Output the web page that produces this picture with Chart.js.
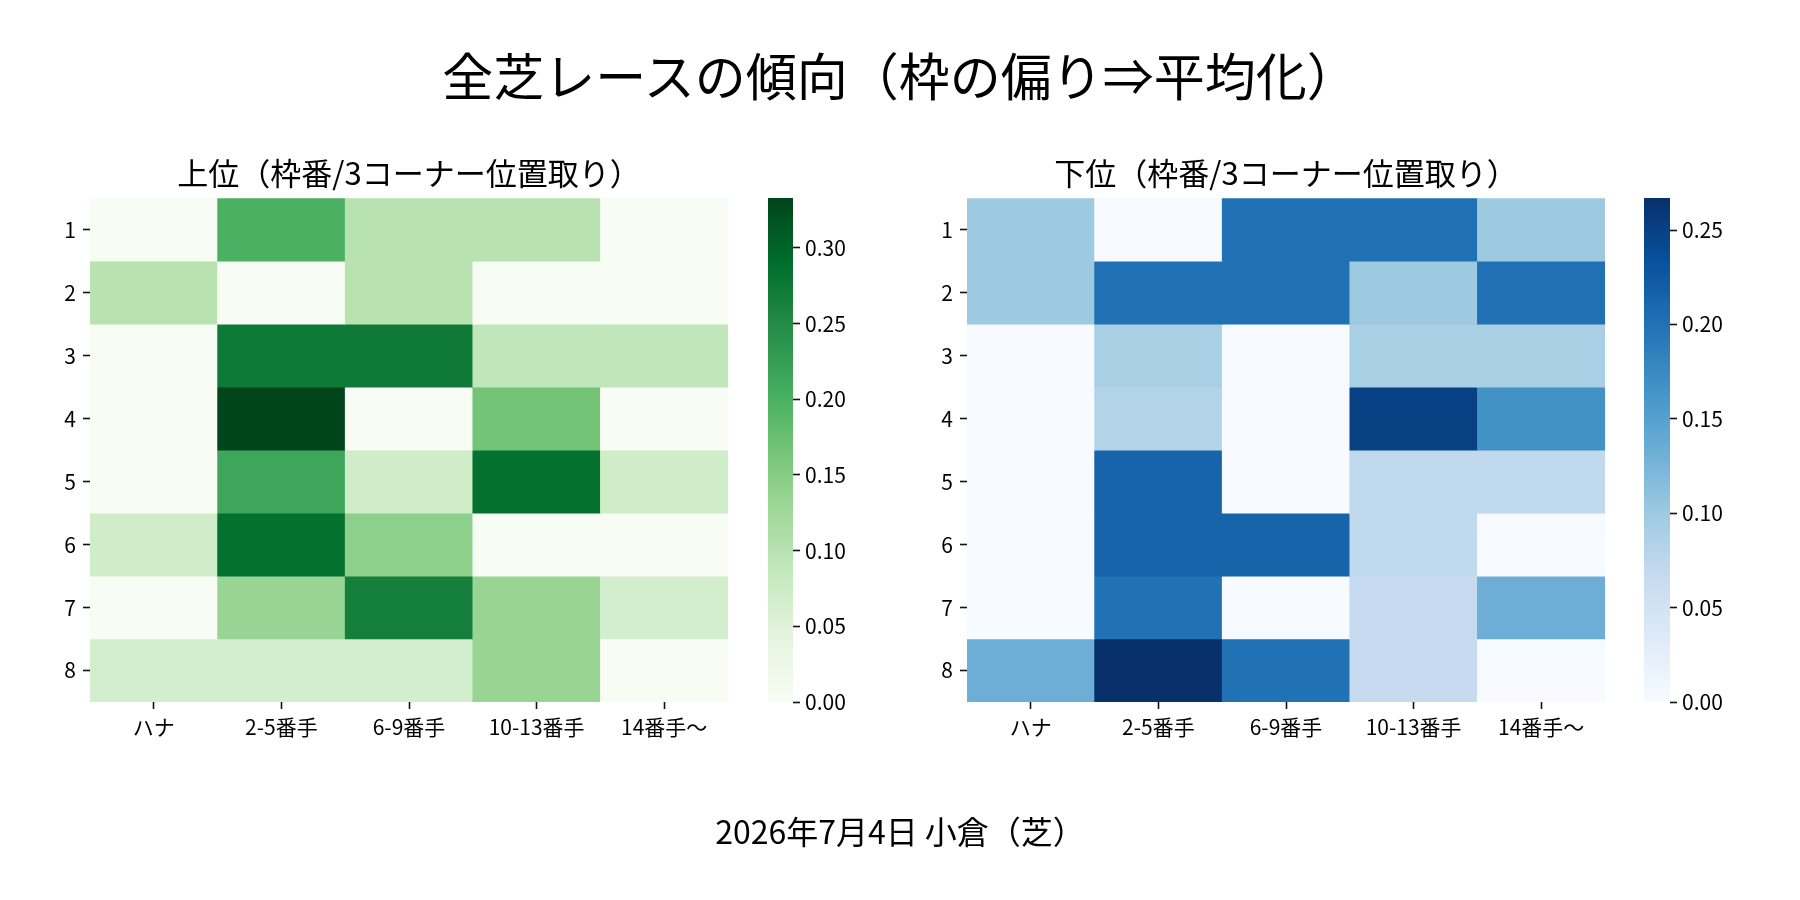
<!DOCTYPE html>
<html lang="ja">
<head>
<meta charset="utf-8">
<title>全芝レースの傾向</title>
<script src="https://cdn.jsdelivr.net/npm/chart.js@4.4.1/dist/chart.umd.min.js"></script>
<style>
  html, body { margin: 0; padding: 0; background: #fff; }
  #wrap { position: relative; width: 1800px; height: 900px; overflow: hidden; }
  #wrap canvas { position: absolute; left: 0; top: 0; }
  .txt { position: absolute; left: 0; width: 1800px; text-align: center; color: #000;
         font-family: 'Noto Sans CJK JP', sans-serif; white-space: nowrap; }
  #suptitle { top: 44px; font-size: 51px; line-height: 60px; }
  #footer { top: 810px; font-size: 32px; line-height: 40px; }
</style>
</head>
<body>
<div id="wrap">
  <div id="suptitle" class="txt">全芝レースの傾向（枠の偏り⇒平均化）</div>
  <canvas id="hmUpper" width="1800" height="900"></canvas>
  <canvas id="cbUpper" width="1800" height="900"></canvas>
  <canvas id="hmLower" width="1800" height="900"></canvas>
  <canvas id="cbLower" width="1800" height="900"></canvas>
  <div id="footer" class="txt">2026年7月4日 小倉（芝）</div>
</div>
<script>
// 列 = 3コーナー位置取り, 行 = 枠番
const colLabels = ['ハナ', '2-5番手', '6-9番手', '10-13番手', '14番手～'];
const rowLabels = ['1', '2', '3', '4', '5', '6', '7', '8'];

// 上位
const upperValues = [
  [0.000, 0.200, 0.100, 0.100, 0.000],
  [0.100, 0.000, 0.100, 0.000, 0.000],
  [0.000, 0.273, 0.273, 0.091, 0.091],
  [0.000, 0.333, 0.000, 0.167, 0.000],
  [0.000, 0.214, 0.071, 0.286, 0.071],
  [0.071, 0.286, 0.143, 0.000, 0.000],
  [0.000, 0.133, 0.267, 0.133, 0.067],
  [0.067, 0.067, 0.067, 0.133, 0.000]
];

// 下位
const lowerValues = [
  [0.100, 0.000, 0.200, 0.200, 0.100],
  [0.100, 0.200, 0.200, 0.100, 0.200],
  [0.000, 0.091, 0.000, 0.091, 0.091],
  [0.000, 0.083, 0.000, 0.250, 0.167],
  [0.000, 0.214, 0.000, 0.071, 0.071],
  [0.000, 0.214, 0.214, 0.071, 0.000],
  [0.000, 0.200, 0.000, 0.067, 0.133],
  [0.133, 0.267, 0.200, 0.067, 0.000]
];

const upperTicks = [0, 0.05, 0.10, 0.15, 0.20, 0.25, 0.30];
const lowerTicks = [0, 0.05, 0.10, 0.15, 0.20, 0.25];

// matplotlib Greens / Blues
const greens = ['#f7fcf5', '#e5f5e0', '#c7e9c0', '#a1d99b', '#74c476', '#41ab5d', '#238b45', '#006d2c', '#00441b'];
const blues  = ['#f7fbff', '#deebf7', '#c6dbef', '#9ecae1', '#6baed6', '#4292c6', '#2171b5', '#08519c', '#08306b'];

const FONT = "'Noto Sans CJK JP', 'Noto Sans', sans-serif";
const INK = '#000';
const W = 1800, H = 900;
const Y_AXIS_W = 50, X_AXIS_H = 60, CB_AXIS_W = 70, TITLE_H = 43;

Chart.defaults.font.family = FONT;
Chart.defaults.color = INK;

function hex2rgb(h) {
  return [1, 3, 5].map(i => parseInt(h.substr(i, 2), 16));
}

function cmap(stops, t) {
  t = Math.min(1, Math.max(0, t));
  const p = t * (stops.length - 1);
  const i = Math.min(stops.length - 2, Math.floor(p));
  const f = p - i;
  const a = hex2rgb(stops[i]), b = hex2rgb(stops[i + 1]);
  const c = a.map((v, k) => Math.round(v + (b[k] - v) * f));
  return 'rgb(' + c.join(',') + ')';
}

function maxOf(values) {
  return Math.max.apply(null, values.map(r => Math.max.apply(null, r)));
}

const tickGrid = {
  drawOnChartArea: false,
  drawTicks: true,
  tickLength: 7,
  tickWidth: 1.6,
  tickColor: '#111',
  offset: false
};

function heatmap(id, title, values, stops, area) {
  const vmax = maxOf(values);
  new Chart(document.getElementById(id), {
    type: 'bar',
    data: {
      labels: colLabels,
      datasets: rowLabels.map((r, i) => ({
        label: r,
        data: colLabels.map(() => [i + 0.5, i + 1.5]),
        backgroundColor: values[i].map(v => cmap(stops, v / vmax)),
        borderWidth: 0,
        grouped: false,
        barPercentage: 1,
        categoryPercentage: 1
      }))
    },
    options: {
      responsive: false,
      animation: false,
      events: [],
      layout: {
        padding: {
          left: area.left - Y_AXIS_W,
          right: W - area.right,
          top: area.top - TITLE_H,
          bottom: H - area.bottom - X_AXIS_H
        }
      },
      plugins: {
        legend: { display: false },
        tooltip: { enabled: false },
        title: {
          display: true,
          text: title,
          fullSize: false,
          color: INK,
          font: { size: 31, weight: 'normal', family: FONT },
          padding: { top: 0, bottom: 6 }
        }
      },
      scales: {
        x: {
          type: 'category',
          offset: true,
          grid: tickGrid,
          border: { display: false },
          ticks: { color: INK, font: { size: 21 }, padding: 5, maxRotation: 0, autoSkip: false },
          afterFit: s => { s.height = X_AXIS_H; }
        },
        y: {
          type: 'linear',
          min: 0.5,
          max: 8.5,
          reverse: true,
          grid: tickGrid,
          border: { display: false },
          afterBuildTicks: s => { s.ticks = rowLabels.map((_, i) => ({ value: i + 1 })); },
          ticks: { color: INK, font: { size: 21 }, padding: 7, callback: (v, i) => rowLabels[i] },
          afterFit: s => { s.width = Y_AXIS_W; }
        }
      }
    }
  });
}

function colorbar(id, values, stops, ticks, area) {
  const vmax = maxOf(values);
  new Chart(document.getElementById(id), {
    type: 'bar',
    data: {
      labels: [''],
      datasets: [{
        data: [[0, vmax]],
        borderWidth: 0,
        barPercentage: 1,
        categoryPercentage: 1,
        backgroundColor: c => {
          const ca = c.chart.chartArea;
          if (!ca) return stops[0];
          const g = c.chart.ctx.createLinearGradient(0, ca.bottom, 0, ca.top);
          stops.forEach((col, i) => g.addColorStop(i / (stops.length - 1), col));
          return g;
        }
      }]
    },
    options: {
      responsive: false,
      animation: false,
      events: [],
      layout: {
        padding: {
          left: area.left,
          right: W - area.right - CB_AXIS_W,
          top: area.top,
          bottom: H - area.bottom
        }
      },
      plugins: { legend: { display: false }, tooltip: { enabled: false } },
      scales: {
        x: { display: false, offset: true },
        y: {
          position: 'right',
          min: 0,
          max: vmax,
          grid: tickGrid,
          border: { display: false },
          afterBuildTicks: s => { s.ticks = ticks.map(v => ({ value: v })); },
          ticks: { color: INK, font: { size: 21 }, padding: 5, callback: v => v.toFixed(2) },
          afterFit: s => { s.width = CB_AXIS_W; }
        }
      }
    }
  });
}

heatmap('hmUpper', '上位（枠番/3コーナー位置取り）', upperValues, greens,
        { left: 90, right: 728, top: 198, bottom: 702 });
colorbar('cbUpper', upperValues, greens, upperTicks,
         { left: 768, right: 793, top: 198, bottom: 702 });
heatmap('hmLower', '下位（枠番/3コーナー位置取り）', lowerValues, blues,
        { left: 967, right: 1605, top: 198, bottom: 702 });
colorbar('cbLower', lowerValues, blues, lowerTicks,
         { left: 1644, right: 1670, top: 198, bottom: 702 });
</script>
</body>
</html>
